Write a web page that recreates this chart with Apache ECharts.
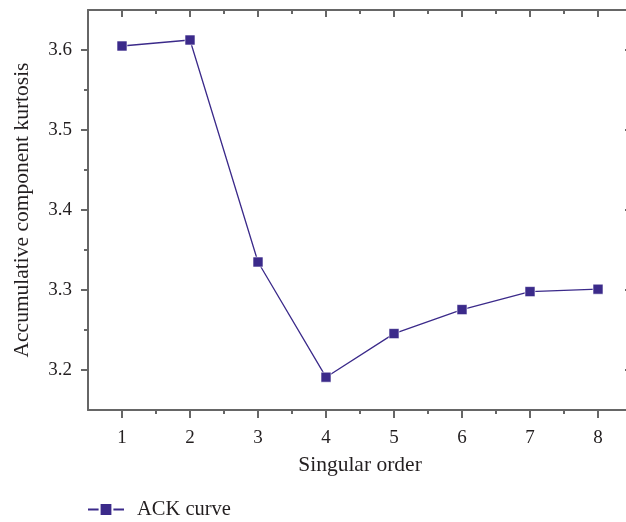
<!DOCTYPE html>
<html>
<head>
<meta charset="utf-8">
<script src="https://cdn.jsdelivr.net/npm/echarts@6/dist/echarts.min.js"></script>
<style>html,body{margin:0;padding:0;background:#fff}#c{width:626px;height:522px}</style>
</head>
<body>
<div id="c"></div>
<script>
const xValues = [1, 2, 3, 4, 5, 6, 7, 8];
const ackCurve = [3.605, 3.6125, 3.335, 3.191, 3.2455, 3.2755, 3.298, 3.301];
const xMajorTicks = [1, 2, 3, 4, 5, 6, 7, 8];
const xMinorTicks = [1.5, 2.5, 3.5, 4.5, 5.5, 6.5, 7.5];
const yMajorTicks = [3.2, 3.3, 3.4, 3.5, 3.6];
const yMinorTicks = [3.25, 3.35, 3.45, 3.55];

const FONT = '"Liberation Serif", "DejaVu Serif", serif';
const AX = '#666';
const TXT = '#231f20';
const LINE = '#3b2a8a';

const chart = echarts.init(document.getElementById('c'), null, {renderer: 'canvas'});

function xAx(pos, ticks, len, inside, withLine, labels) {
  return {
    type: 'value', position: pos, min: 0.5, max: 8.5, interval: 0.5,
    axisLine: {show: withLine, lineStyle: {color: AX, width: 2}},
    axisTick: {show: true, customValues: ticks, length: len, inside: inside, lineStyle: {color: AX, width: 2}},
    axisLabel: labels ? {show: true, customValues: xMajorTicks, margin: 19, color: TXT, fontFamily: FONT, fontSize: 19} : {show: false},
    splitLine: {show: false}
  };
}
function yAx(pos, ticks, len, inside, withLine, labels) {
  return {
    type: 'value', position: pos, min: 3.15, max: 3.65, interval: 0.05,
    axisLine: {show: withLine, lineStyle: {color: AX, width: 2}},
    axisTick: {show: true, customValues: ticks, length: len, inside: inside, lineStyle: {color: AX, width: 2}},
    axisLabel: labels ? {show: true, customValues: yMajorTicks, margin: 16, color: TXT, fontFamily: FONT, fontSize: 19,
      formatter: v => v.toFixed(1)} : {show: false},
    splitLine: {show: false}
  };
}

const xb = xAx('bottom', xMajorTicks, 8, false, true, true);
xb.name = 'Singular order';
xb.nameLocation = 'middle';
xb.nameGap = 44;
xb.nameTextStyle = {color: TXT, fontFamily: FONT, fontSize: 21.5};

const yl = yAx('left', yMajorTicks, 7, false, true, true);
yl.name = 'Accumulative component kurtosis';
yl.nameLocation = 'middle';
yl.nameGap = 55;
yl.nameTextStyle = {color: TXT, fontFamily: FONT, fontSize: 21.5};

chart.setOption({
  animation: false,
  backgroundColor: '#fff',
  grid: {left: 88, top: 10, width: 544, height: 400, containLabel: false, outerBoundsMode: 'none'},
  legend: {
    left: 82, top: 494, itemWidth: 36, itemHeight: 16,
    data: ['ACK curve'],
    textStyle: {color: TXT, fontFamily: FONT, fontSize: 20.5, padding: [0, 0, 0, 8]}
  },
  xAxis: [
    xb,
    xAx('bottom', xMinorTicks, 4, false, false, false),
    xAx('top', xMajorTicks, 7, true, true, false),
    xAx('top', xMinorTicks, 4, true, false, false)
  ],
  yAxis: [
    yl,
    yAx('left', yMinorTicks, 4, false, false, false),
    yAx('right', yMajorTicks, 7, true, true, false),
    yAx('right', yMinorTicks, 4, true, false, false)
  ],
  series: [{
    name: 'ACK curve',
    type: 'line',
    xAxisIndex: 0, yAxisIndex: 0,
    data: xValues.map((x, i) => [x, ackCurve[i]]),
    symbol: 'rect', symbolSize: 10,
    lineStyle: {color: LINE, width: 1.3},
    itemStyle: {color: LINE, borderColor: '#ffffff', borderWidth: 0.6}
  }]
});
</script>
</body>
</html>
